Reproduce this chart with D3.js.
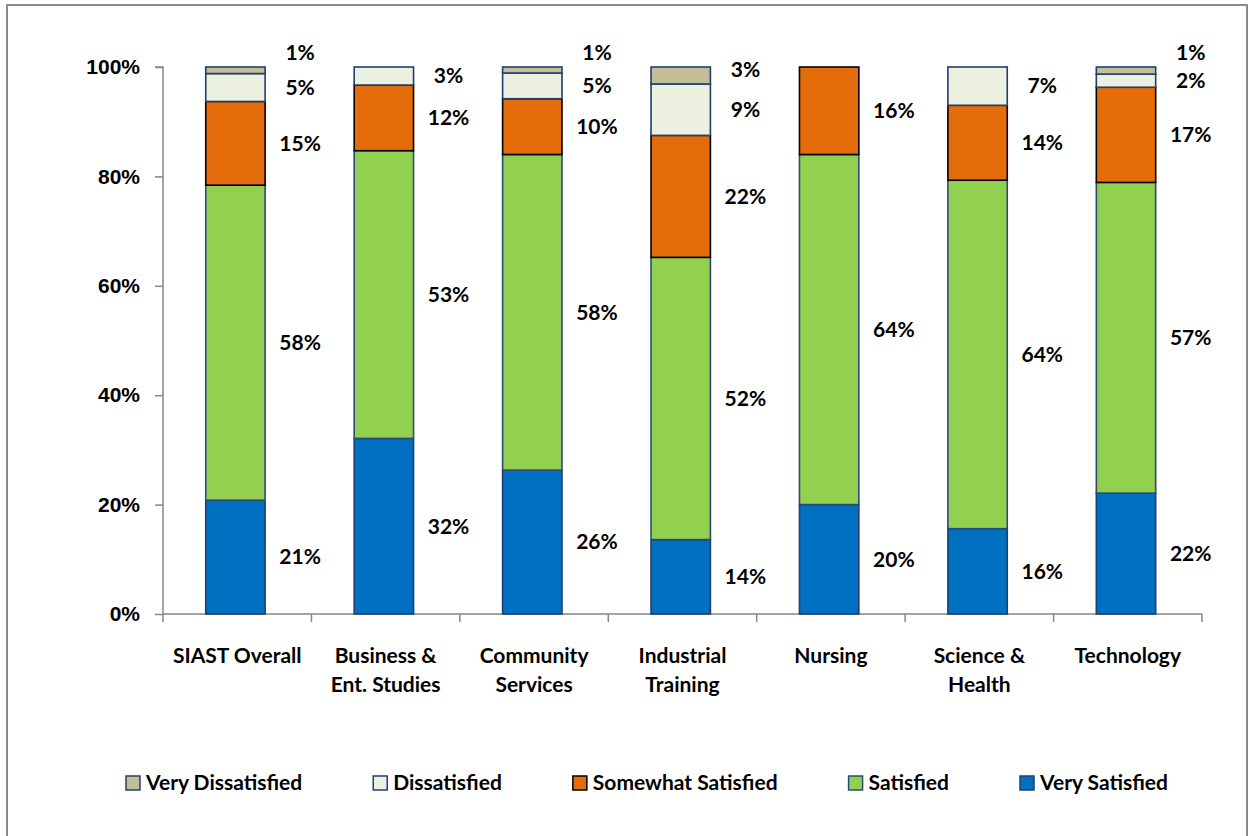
<!DOCTYPE html>
<html>
<head>
<meta charset="utf-8">
<script src="https://cdn.jsdelivr.net/npm/d3@7"></script>
<style>
  body { margin: 0; background: #fff; }
  svg { display: block; font-family: Lato, "Open Sans", sans-serif; font-weight: bold; }
  .axis path, .axis line { stroke: #868686; stroke-width: 1.5; }
  .axis text { fill: #000; font-size: 21px; font-weight: bold; }
</style>
</head>
<body>
<svg id="chart" width="1249" height="836"></svg>
<script>
// categories (line breaks as in the original axis)
var categories = ["SIAST Overall", "Business &\nEnt. Studies", "Community\nServices",
                  "Industrial\nTraining", "Nursing", "Science &\nHealth", "Technology"];

// series, bottom to top of each bar (percent)
var very_satisfied      = [20.8, 32.1, 26.3, 13.6, 20.0, 15.6, 22.1];
var satisfied           = [57.6, 52.6, 57.7, 51.6, 64.0, 63.7, 56.8];
var somewhat_satisfied  = [15.3, 12.0, 10.2, 22.3, 16.0, 13.7, 17.4];
var dissatisfied        = [5.1, 3.3, 4.7, 9.4, 0, 7.0, 2.4];
var very_dissatisfied   = [1.2, 0, 1.1, 3.1, 0, 0, 1.3];

var y_ticks = [0, 20, 40, 60, 80, 100];

var series = [
    {key: "Very Satisfied", values: very_satisfied, fill: "#0070c0", stroke: "#1f3f73"},
    {key: "Satisfied", values: satisfied, fill: "#92d050", stroke: "#2a4a7a"},
    {key: "Somewhat Satisfied", values: somewhat_satisfied, fill: "#e46c0a", stroke: "#000"},
    {key: "Dissatisfied", values: dissatisfied, fill: "#ebf1de", stroke: "#1f3f73"},
    {key: "Very Dissatisfied", values: very_dissatisfied, fill: "#c4bd97", stroke: "#1f3f73"}
];

var svg = d3.select("#chart"),
    margin = {top: 67, right: 47, bottom: 222, left: 163},
    width = +svg.attr("width") - margin.left - margin.right,
    height = +svg.attr("height") - margin.top - margin.bottom;

// outer chart frame
svg.append("rect")
    .attr("x", 7).attr("y", 5)
    .attr("width", 1240).attr("height", 840)
    .attr("fill", "none")
    .attr("stroke", "#8c8c8c")
    .attr("stroke-width", 2);

var g = svg.append("g").attr("transform", "translate(" + margin.left + "," + margin.top + ")");

var x = d3.scaleBand()
    .domain(categories)
    .range([0, width])
    .paddingInner(0.6)
    .paddingOuter(0.3)
    .align(0.48);

var y = d3.scaleLinear()
    .domain([0, 100])
    .range([height, 0]);

// build stacked table
var table = categories.map(function (c, i) {
    var row = {cat: c};
    series.forEach(function (s) { row[s.key] = s.values[i]; });
    return row;
});
var stack = d3.stack().keys(series.map(function (s) { return s.key; }))(table);

// axes
var yAxis = g.append("g")
    .attr("class", "axis")
    .call(d3.axisLeft(y).tickValues(y_ticks).tickSize(8).tickPadding(15)
        .tickFormat(function (d) { return d + "%"; }));
yAxis.select(".domain").attr("d", "M-8,0H0V" + height);

var xAxis = g.append("g")
    .attr("class", "axis")
    .attr("transform", "translate(0," + height + ")");
xAxis.append("line")
    .attr("x1", 0).attr("x2", width)
    .attr("stroke", "#868686").attr("stroke-width", 1.5);
xAxis.selectAll(".tick-mark")
    .data(d3.range(categories.length + 1))
    .enter().append("line")
    .attr("x1", function (i) { return i * x.step(); })
    .attr("x2", function (i) { return i * x.step(); })
    .attr("y1", 0).attr("y2", 8)
    .attr("stroke", "#868686").attr("stroke-width", 1.5);
xAxis.selectAll(".cat")
    .data(categories)
    .enter().append("text")
    .attr("text-anchor", "middle")
    .attr("font-size", 21)
    .attr("x", function (d, i) { return (i + 0.5) * x.step(); })
    .attr("y", 49)
    .each(function (d) {
        var t = d3.select(this);
        d.split("\n").forEach(function (line, k) {
            t.append("tspan")
                .attr("x", t.attr("x"))
                .attr("dy", k === 0 ? 0 : 29)
                .text(line);
        });
    });

// bars
var layers = g.append("g")
    .selectAll("g")
    .data(stack)
    .enter().append("g")
    .attr("fill", function (d, i) { return series[i].fill; })
    .attr("stroke", function (d, i) { return series[i].stroke; });

layers.selectAll("rect")
    .data(function (d) { return d.filter(function (p) { return p[1] - p[0] > 0; }); })
    .enter().append("rect")
    .attr("x", function (d) { return x(d.data.cat); })
    .attr("y", function (d) { return y(d[1]); })
    .attr("width", x.bandwidth())
    .attr("height", function (d) { return y(d[0]) - y(d[1]); })
    .attr("stroke-width", 1.6);

// data labels: segment middle, pushed apart when too close
var labels = [];
categories.forEach(function (c, i) {
    var col = [];
    stack.forEach(function (layer) {
        var p = layer[i];
        if (p[1] - p[0] > 0) {
            col.push({cat: c, text: Math.round(p[1] - p[0]) + "%", y: y((p[0] + p[1]) / 2)});
        }
    });
    var gap = 40;
    for (var k = 1; k < col.length; k++) {
        if (col[k - 1].y - col[k].y < gap) col[k].y = col[k - 1].y - gap;
    }
    col.forEach(function (l) { if (l.y < -14) l.y = -14; });
    labels = labels.concat(col);
});

g.append("g")
    .selectAll("text")
    .data(labels)
    .enter().append("text")
    .attr("text-anchor", "middle")
    .attr("font-size", 21)
    .attr("x", function (d) { return x(d.cat) + x.bandwidth() + 35; })
    .attr("y", function (d) { return d.y; })
    .attr("dy", "0.35em")
    .text(function (d) { return d.text; });

// legend (top series first, as in the original)
var legendData = series.slice().reverse();
var legend = svg.append("g").attr("transform", "translate(0,790)");
var items = legend.selectAll("g")
    .data(legendData)
    .enter().append("g");
items.append("rect")
    .attr("x", 0).attr("y", -14)
    .attr("width", 14).attr("height", 14)
    .attr("fill", function (d) { return d.fill; })
    .attr("stroke", function (d) { return d.stroke; })
    .attr("stroke-width", 1.5);
items.append("text")
    .attr("x", 20)
    .attr("font-size", 21)
    .text(function (d) { return d.key; });

var widths = [];
items.each(function () { widths.push(this.getBBox().width); });
var legendLeft = 126, legendRight = 1168;
var itemGap = (legendRight - legendLeft - d3.sum(widths)) / (widths.length - 1);
var pos = legendLeft;
items.attr("transform", function (d, i) {
    var t = "translate(" + pos + ",0)";
    pos += widths[i] + itemGap;
    return t;
});
</script>
</body>
</html>
